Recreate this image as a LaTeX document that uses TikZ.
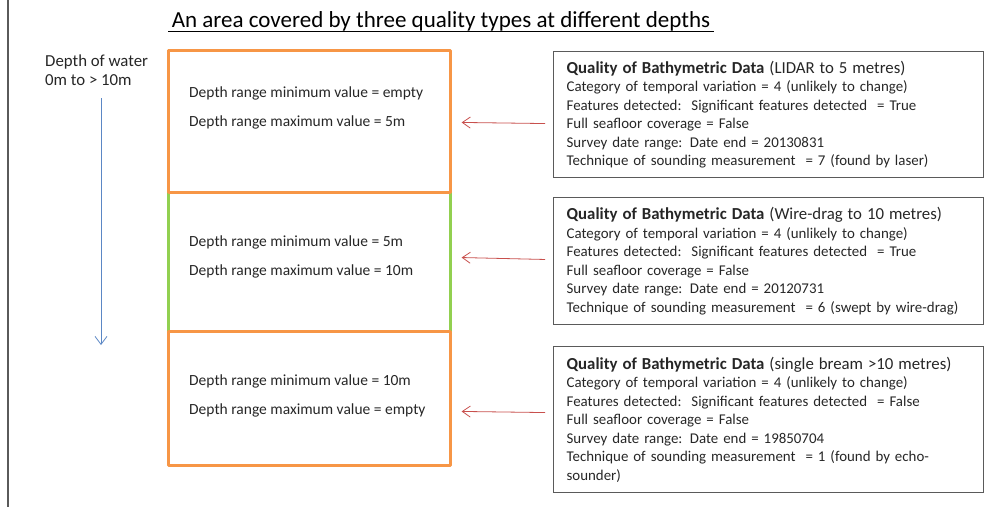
\documentclass[tikz,border=0pt]{standalone}
\usepackage{fontspec}
\setmainfont{Carlito}
\usepackage{tikz}
\usetikzlibrary{positioning, arrows.meta}

\definecolor{zoneorange}{HTML}{F79646}
\definecolor{zonegreen}{HTML}{92D050}
\definecolor{depthblue}{HTML}{5B87C5}
\definecolor{linkred}{HTML}{C8504D}
\definecolor{boxgray}{HTML}{5A5A5A}
\definecolor{txt}{HTML}{262626}

\tikzset{
  zone/.style={rectangle, line width=2.6pt, line join=round, minimum width=282pt, inner sep=0pt, anchor=north west},
  zonetext/.style={anchor=west, align=left, font=\fontsize{15.5}{29}\selectfont, text=txt, inner sep=0pt},
  qbox/.style={rectangle, draw=boxgray, line width=1.3pt, anchor=north west, minimum width=424pt,
               text width=404pt, inner xsep=13pt, align=left, font=\fontsize{14.9}{18.5}\selectfont, text=txt},
  link/.style={-{Straight Barb[length=8pt, width=11pt]}, draw=linkred, line width=0.8pt, shorten >=10pt, shorten <=8pt},
}

\begin{document}
\begin{tikzpicture}[x=1pt, y=-1pt]
  \useasboundingbox (0,0) rectangle (990,507);

  % frame line on the left
  \coordinate (ftop) at (8,0);
  \coordinate (fbot) at (8,507);
  \draw[boxgray, line width=1.3pt] (ftop) -- (fbot);

  % title
  \node (title) at (441,21) {\fontsize{23}{26}\selectfont An area covered by three quality types at different depths};
  \draw[black, line width=0.9pt] ([yshift=-4pt]title.base west) -- ([yshift=-4pt]title.base east);

  % depth axis
  \node (depth) [anchor=north west, align=left, inner sep=0pt, font=\fontsize{16.8}{19}\selectfont, text=txt] at (45,55) {Depth of water\\0m to > 10m};
  \coordinate (dtop) at (101,98);
  \coordinate (dbot) at (101,345);
  \draw[-{Straight Barb[length=8pt, width=12pt]}, depthblue, line width=0.8pt] (dtop) -- (dbot);

  % depth zones (green first, orange drawn over its edges)
  \node (z2) [zone, draw=zonegreen, minimum height=139pt] at (167,191) {};
  \node (z1) [zone, draw=zoneorange, minimum height=142pt] at (167,49) {};
  \node (z3) [zone, draw=zoneorange, minimum height=134pt] at (167,330) {};

  \node (t1) [zonetext] at (189,108) {Depth range minimum value = empty\\Depth range maximum value = 5m};
  \node (t2) [zonetext] at (189,257) {Depth range minimum value = 5m\\Depth range maximum value = 10m};
  \node (t3) [zonetext] at (189,396) {Depth range minimum value = 10m\\Depth range maximum value = empty};

  % quality boxes
  \node (qA) [qbox, minimum height=126pt] at (553,51) {%
    {\fontsize{16.8}{18.5}\selectfont\textbf{Quality of Bathymetric Data} (LIDAR to 5 metres)}\\
    Category of temporal variation = 4 (unlikely to change)\\
    Features detected:\ \ Significant features detected\ \ = True\\
    Full seafloor coverage = False\\
    Survey date range: Date end\ = 20130831\\
    Technique of sounding measurement\ \ = 7 (found by laser)};
  \node (qB) [qbox, minimum height=127pt] at (553,197) {%
    {\fontsize{16.8}{18.5}\selectfont\textbf{Quality of Bathymetric Data} (Wire-drag to 10 metres)}\\
    Category of temporal variation = 4 (unlikely to change)\\
    Features detected:\ \ Significant features detected\ \ = True\\
    Full seafloor coverage = False\\
    Survey date range: Date end\ = 20120731\\
    Technique of sounding measurement\ \ = 6 (swept by wire-drag)};
  \node (qC) [qbox, minimum height=146pt] at (553,346) {%
    {\fontsize{16.8}{18.5}\selectfont\textbf{Quality of Bathymetric Data} (single bream >10 metres)}\\
    Category of temporal variation = 4 (unlikely to change)\\
    Features detected:\ \ Significant features detected\ \ = False\\
    Full seafloor coverage = False\\
    Survey date range: Date end\ = 19850704\\
    Technique of sounding measurement\ \ = 1 (found by echo-\\
    sounder)};

  % links from quality boxes to zones
  \draw[link] ([yshift=-9pt]qA.west) -- ([yshift=-1pt]z1.east);
  \draw[link] ([yshift=1.5pt]qB.west) -- ([yshift=4.5pt]z2.east);
  \draw[link] ([yshift=7pt]qC.west) -- ([yshift=-13pt]z3.east);

\end{tikzpicture}
\end{document}
